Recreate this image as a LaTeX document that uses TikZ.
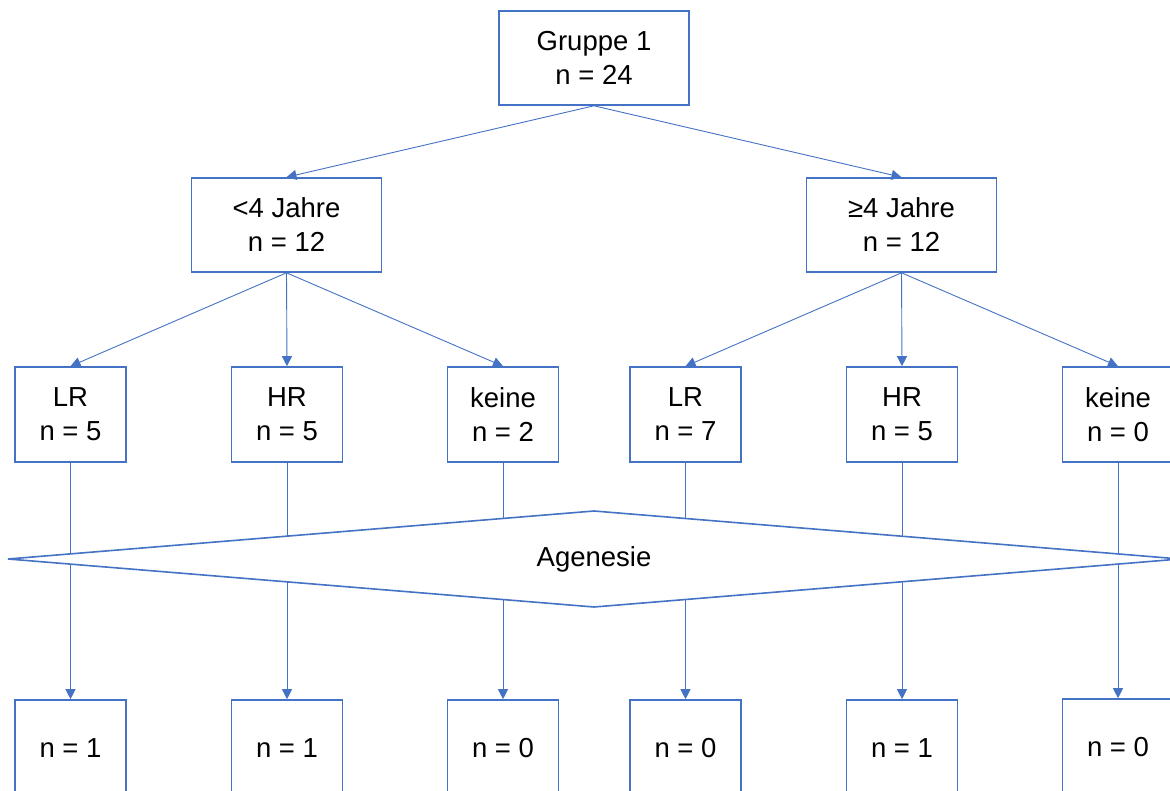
\documentclass[tikz,border=0pt]{standalone}
\usepackage{fontspec}
\setmainfont{Liberation Sans}
\usetikzlibrary{arrows.meta}
\definecolor{bl}{HTML}{4472C4}
\tikzset{
  box/.style={draw=bl, line width=1.6pt, fill=white, inner sep=0pt, align=center,
    font=\fontsize{27.5}{34}\selectfont, text=black},
  bigbox/.style={box, minimum width=190pt, minimum height=94pt},
  smallbox/.style={box, minimum width=111pt, minimum height=95pt},
  conn/.style={draw=bl, line width=0.9pt},
  arr/.style={conn, -{Triangle[length=10pt,width=10pt]}},
}
\begin{document}
\begin{tikzpicture}[x=1pt,y=-1pt]
\useasboundingbox (0,0) rectangle (1170,791);
\clip (0,0) rectangle (1170,791);
\node[bigbox] (g) at (594,58) {Gruppe 1\\n = 24};
\node[bigbox] (l) at (286.5,225) {<4 Jahre\\n = 12};
\node[bigbox] (r) at (901.5,225) {≥4 Jahre\\n = 12};
\node[smallbox] (a1) at (70.5,414.5) {LR\\n = 5};
\node[smallbox] (a2) at (287,414.5) {HR\\n = 5};
\node[smallbox] (a3) at (503,414.5) {keine\\n = 2};
\node[smallbox] (a4) at (685.5,414.5) {LR\\n = 7};
\node[smallbox] (a5) at (902,414.5) {HR\\n = 5};
\node[smallbox] (a6) at (1118,414.5) {keine\\n = 0};
\node[smallbox, minimum height=96pt] (b1) at (70.5,748) {n = 1};
\node[smallbox, minimum height=96pt] (b2) at (287,748) {n = 1};
\node[smallbox, minimum height=96pt] (b3) at (503,748) {n = 0};
\node[smallbox, minimum height=96pt] (b4) at (685.5,748) {n = 0};
\node[smallbox, minimum height=96pt] (b5) at (902,748) {n = 1};
\node[smallbox, minimum height=96pt] (b6) at (1118,747) {n = 0};
\draw[arr] (g.south) -- (l.north);
\draw[arr] (g.south) -- (r.north);
\draw[arr] (l.south) -- (a1.north);
\draw[arr] (l.south) -- (a2.north);
\draw[arr] (l.south) -- (a3.north);
\draw[arr] (r.south) -- (a4.north);
\draw[arr] (r.south) -- (a5.north);
\draw[arr] (r.south) -- (a6.north);
\foreach \i in {1,...,6} {\draw[arr] (a\i.south) -- (b\i.north);}
\coordinate (dl) at (8,559);
\coordinate (dt) at (594,511);
\coordinate (dr) at (1180,559);
\coordinate (db) at (594,607);
\draw[draw=bl, line width=1.6pt, fill=white, line join=miter] (dl) -- (dt) -- (dr) -- (db) -- cycle;
\node[font=\fontsize{27.5}{34}\selectfont, inner sep=0pt] (ag) at (594,559) {Agenesie};
\end{tikzpicture}
\end{document}
